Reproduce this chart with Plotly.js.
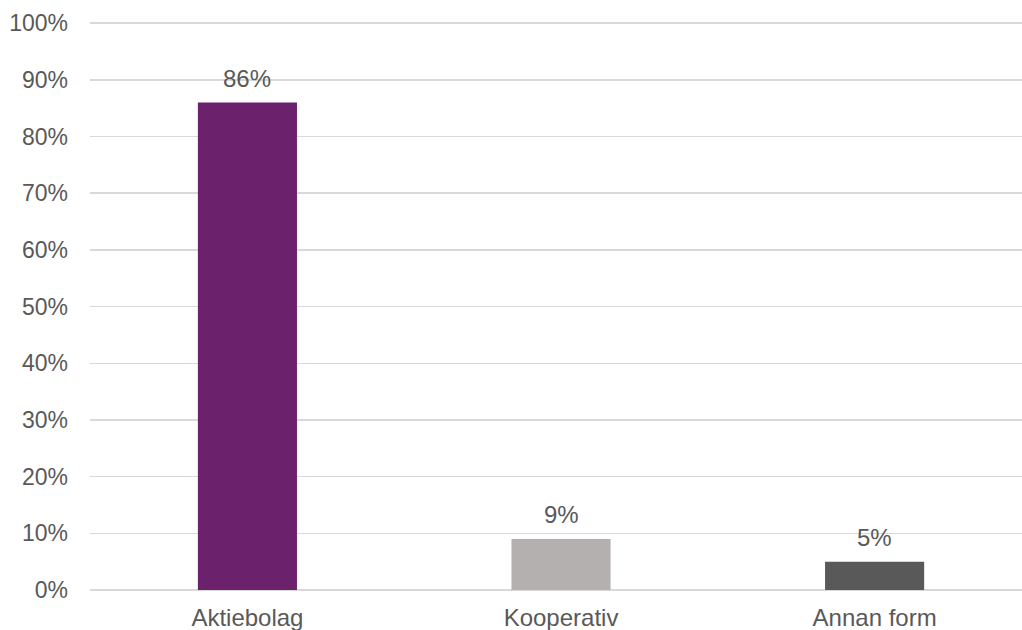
<!DOCTYPE html>
<html>
<head>
<meta charset="utf-8">
<script src="https://cdn.plot.ly/plotly-3.0.1.min.js"></script>
<style>
  html, body { margin: 0; padding: 0; background: #ffffff; }
  #chart { width: 1022px; height: 630px; }
</style>
</head>
<body>
<div id="chart"></div>
<script>
// Share of organisations by legal form
const categories = ["Aktiebolag", "Kooperativ", "Annan form"];
const shares = [0.86, 0.09, 0.05];
const barColors = ["#6C216D", "#B4B0B0", "#595959"];

const textColor = "#595959";
const fontFamily = "'Liberation Sans', Arial, sans-serif";
const fontSize = 24;

const trace = {
  type: "bar",
  x: categories,
  y: shares,
  width: 0.316,
  marker: { color: barColors },
  hoverinfo: "skip"
};

const labels = categories.map((c, i) => ({
  x: c,
  y: shares[i],
  xref: "x",
  yref: "y",
  text: Math.round(shares[i] * 100) + "%",
  showarrow: false,
  yanchor: "bottom",
  yshift: 9,
  font: { family: fontFamily, size: fontSize, color: textColor }
}));

const layout = {
  width: 1022,
  height: 630,
  margin: { l: 90, r: 0, t: 22, b: 40 },
  paper_bgcolor: "#ffffff",
  plot_bgcolor: "#ffffff",
  showlegend: false,
  font: { family: fontFamily, size: fontSize, color: textColor },
  xaxis: {
    type: "category",
    range: [-0.502, 2.470],
    showgrid: false,
    showline: false,
    zeroline: false,
    ticks: "",
    ticklabelstandoff: 11,
    tickfont: { family: fontFamily, size: fontSize, color: textColor },
    fixedrange: true
  },
  yaxis: {
    range: [0, 1.002],
    tickvals: [0, 0.1, 0.2, 0.3, 0.4, 0.5, 0.6, 0.7, 0.8, 0.9, 1.0],
    tickformat: ".0%",
    showgrid: true,
    gridcolor: "#D9D9D9",
    gridwidth: 1.4,
    zeroline: true,
    zerolinecolor: "#D9D9D9",
    zerolinewidth: 1.4,
    showline: false,
    ticks: "",
    ticklabelstandoff: 21,
    tickfont: { family: fontFamily, size: 23, color: textColor },
    fixedrange: true
  },
  annotations: labels
};

Plotly.newPlot("chart", [trace], layout, { displayModeBar: false, staticPlot: true });
</script>
</body>
</html>
